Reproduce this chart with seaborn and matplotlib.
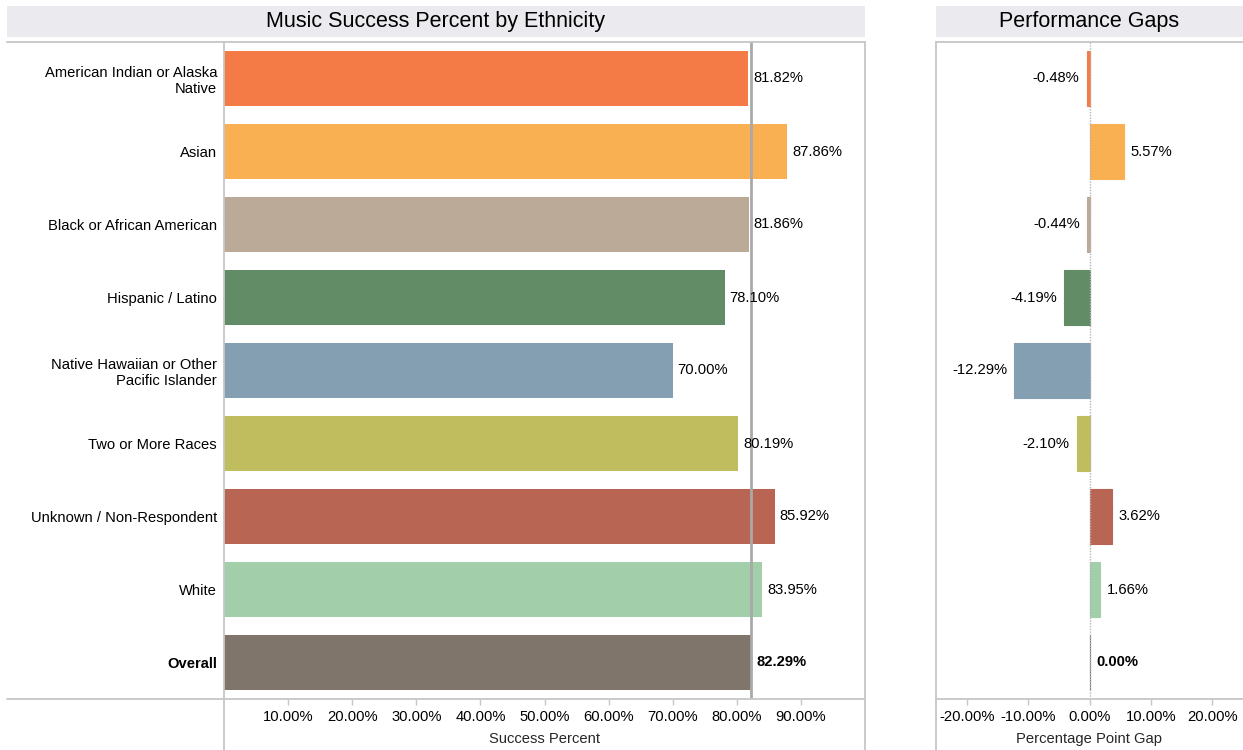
import matplotlib
matplotlib.use("Agg")
import matplotlib.pyplot as plt
from matplotlib.lines import Line2D
from matplotlib.patches import Rectangle
import seaborn as sns

# values
ethnicities = [
    "American Indian or Alaska\nNative",
    "Asian",
    "Black or African American",
    "Hispanic / Latino",
    "Native Hawaiian or Other\nPacific Islander",
    "Two or More Races",
    "Unknown / Non-Respondent",
    "White",
    "Overall",
]
success_pct = [81.82, 87.86, 81.86, 78.10, 70.00, 80.19, 85.92, 83.95, 82.29]
gap_pts = [-0.48, 5.57, -0.44, -4.19, -12.29, -2.10, 3.62, 1.66, 0.00]
colors = ["#F47B45", "#F9B052", "#BBAA98", "#628C65", "#849FB2",
          "#C0BD5F", "#B86554", "#A2CFA9", "#7F756B"]
overall_pct = success_pct[-1]

W, H = 1243, 750
LINE = "#c6c6c6"
TITLE_BG = "#ebebef"
FS = 10.6


def fx(px):
    return px / W


def fy(py):
    return 1 - py / H


def main():
    sns.set_theme(style="white")
    plt.rcParams["font.family"] = ["Liberation Sans", "DejaVu Sans"]
    plt.rcParams["font.size"] = FS

    fig = plt.figure(figsize=(W / 100, H / 100), dpi=100)
    ax1 = fig.add_axes([fx(224), fy(699), fx(865 - 224), (699 - 42) / H])
    ax2 = fig.add_axes([fx(936), fy(699), fx(W - 936), (699 - 42) / H])

    palette = dict(zip(ethnicities, colors))

    # left: success percent
    sns.barplot(x=success_pct, y=ethnicities, hue=ethnicities, palette=palette,
                legend=False, orient="h", width=0.74, saturation=1,
                linewidth=0, ax=ax1)
    ax1.axvline(overall_pct, color="#a9a9a9", lw=2, zorder=3)
    ax1.set_xlim(0, 100)
    ax1.set_xticks(range(10, 100, 10))
    ax1.set_xticklabels([f"{t:.2f}%" for t in range(10, 100, 10)])
    for i, v in enumerate(success_pct):
        ax1.annotate(f"{v:.2f}%", (v, i), xytext=(5, 0), textcoords="offset pixels",
                     ha="left", va="center", fontsize=FS, color="black", zorder=4,
                     fontweight="bold" if i == len(success_pct) - 1 else "normal")
    ax1.set_xlabel("Success Percent", fontsize=FS, labelpad=6)
    ax1.set_ylabel("")
    ax1.tick_params(axis="y", length=0, pad=5, labelsize=FS, labelcolor="black")
    ax1.get_yticklabels()[-1].set_fontweight("bold")

    # right: gaps vs overall
    sns.barplot(x=gap_pts, y=ethnicities, hue=ethnicities, palette=palette,
                legend=False, orient="h", width=0.74, saturation=1,
                linewidth=0.8, ax=ax2)
    for p, c in zip(ax2.patches, colors):
        p.set_edgecolor(c)
    ax2.axvline(0, color="#b5b5b5", lw=1, ls=(0, (1, 1)), zorder=3)
    ax2.set_xlim(-25, 25)
    ax2.set_xticks(range(-20, 21, 10))
    ax2.set_xticklabels([f"{t:.2f}%" for t in range(-20, 21, 10)])
    for i, v in enumerate(gap_pts):
        off = 7 if v >= 0 else -7
        ax2.annotate(f"{v:.2f}%", (v, i), xytext=(off, 0), textcoords="offset pixels",
                     ha="left" if v >= 0 else "right", va="center", fontsize=FS,
                     color="black",
                     fontweight="bold" if i == len(gap_pts) - 1 else "normal")
    ax2.set_xlabel("Percentage Point Gap", fontsize=FS, labelpad=6)
    ax2.set_ylabel("")
    ax2.set_yticks([])

    for ax in (ax1, ax2):
        for s in ax.spines.values():
            s.set_visible(False)
        ax.tick_params(axis="x", length=4, width=1, color=LINE, pad=4,
                       labelsize=FS, labelcolor="black", bottom=True)
        ax.set_ylim(len(ethnicities) - 0.5, -0.5)

    # frame lines and title bars, Tableau-style
    segs = [
        ((7, 42), (865, 42)), ((7, 699), (865, 699)),
        ((936, 42), (W, 42)), ((936, 699), (W, 699)),
        ((224, 42), (224, H)), ((865, 42), (865, H)), ((936, 42), (936, H)),
    ]
    for (x0, y0), (x1, y1) in segs:
        fig.add_artist(Line2D([fx(x0), fx(x1)], [fy(y0), fy(y1)],
                              transform=fig.transFigure, color=LINE, lw=1.3))

    for x0, x1, title in [(7, 865, "Music Success Percent by Ethnicity"),
                          (936, W, "Performance Gaps")]:
        fig.add_artist(Rectangle((fx(x0), fy(37)), fx(x1 - x0), 31 / H,
                                 transform=fig.transFigure, facecolor=TITLE_BG,
                                 edgecolor="none"))
        fig.text(fx((x0 + x1) / 2), fy(21.5), title, ha="center", va="center",
                 fontsize=15.5, color="black")

    fig.savefig("out.png", dpi=100)
    plt.close(fig)


if __name__ == "__main__":
    main()
